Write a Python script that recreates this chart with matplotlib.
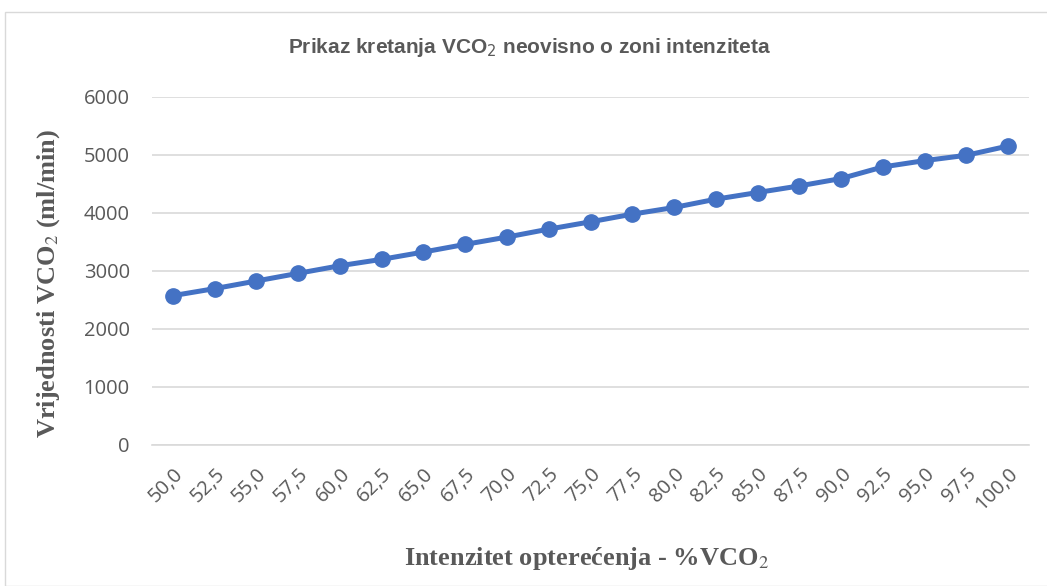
import matplotlib
matplotlib.use("Agg")
import matplotlib.pyplot as plt
from matplotlib.patches import Rectangle

categories = ["50,0", "52,5", "55,0", "57,5", "60,0", "62,5", "65,0", "67,5", "70,0", "72,5",
              "75,0", "77,5", "80,0", "82,5", "85,0", "87,5", "90,0", "92,5", "95,0", "97,5", "100,0"]
vco2 = [2575, 2696, 2828, 2960, 3091, 3201, 3327, 3459, 3585, 3722,
        3848, 3980, 4095, 4238, 4353, 4467, 4594, 4794, 4903, 4995, 5155]
yticks = [0, 1000, 2000, 3000, 4000, 5000, 6000]

W, H = 1047, 586
fig = plt.figure(figsize=(W / 100, H / 100), dpi=100)
fig.patch.set_facecolor("white")

# chart border
fig.add_artist(Rectangle((5 / W, 0), 1 - 5 / W + 0.01, 1 - 12 / H, transform=fig.transFigure,
                         fill=False, edgecolor="#D9D9D9", linewidth=1.0))

ax = fig.add_axes([152 / W, 1 - 445 / H, (1029 - 152) / W, (445 - 97) / H])
x = list(range(len(categories)))
ax.plot(x, vco2, color="#4472C4", linewidth=3.6, marker="o", markersize=11,
        markerfacecolor="#4472C4", markeredgecolor="#4472C4", zorder=3)

ax.set_xlim(-0.5, len(categories) - 0.5)
ax.set_ylim(0, 6000)
ax.set_yticks(yticks)
ax.set_yticklabels([str(v) for v in yticks], fontsize=14.5, color="#595959", family=["Open Sans", "DejaVu Sans"])
ax.set_xticks(x)
ax.set_xticklabels(categories, rotation=45, ha="right", rotation_mode="anchor",
                   fontsize=14.5, color="#595959", family=["Open Sans", "DejaVu Sans"])
ax.tick_params(axis="both", length=0)
ax.tick_params(axis="y", pad=16)
ax.tick_params(axis="x", pad=14)
ax.grid(axis="y", color="#D9D9D9", linewidth=1.2)
ax.set_axisbelow(True)
for s in ["top", "right", "left"]:
    ax.spines[s].set_visible(False)
ax.spines["bottom"].set_color("#D9D9D9")
ax.spines["bottom"].set_linewidth(1.2)

fig.text(530 / W, 1 - 53 / H, r"Prikaz kretanja VCO$_2$ neovisno o zoni intenziteta",
         ha="center", va="baseline", fontsize=15, fontweight="bold", color="#595959",
         family=["Liberation Sans", "DejaVu Sans"], math_fontfamily="dejavusans")
fig.text(587 / W, 1 - 565 / H, r"Intenzitet opterećenja - %VCO$_2$",
         ha="center", va="baseline", fontsize=19, fontweight="bold", color="#595959",
         family=["Liberation Serif", "DejaVu Serif"], math_fontfamily="stix")
fig.text(49 / W, 1 - 283 / H, r"Vrijednosti VCO$_2$ (ml/min)", rotation=90,
         ha="center", va="center", fontsize=19, fontweight="bold", color="#595959",
         family=["Liberation Serif", "DejaVu Serif"], math_fontfamily="stix")

fig.savefig("out.png", dpi=100, facecolor="white")
